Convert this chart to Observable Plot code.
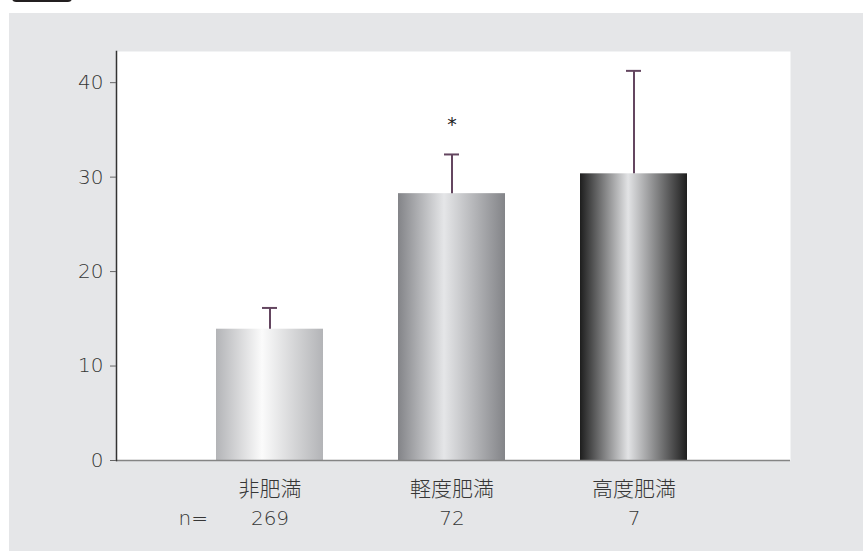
<!DOCTYPE html>
<html><head><meta charset="utf-8">
<script src="https://cdn.jsdelivr.net/npm/d3@7"></script>
<script src="https://cdn.jsdelivr.net/npm/@observablehq/plot@0.6"></script>
<style>
html,body{margin:0;padding:0;background:#fff;width:863px;height:551px;overflow:hidden;font-family:"Noto Sans CJK JP","Noto Sans",sans-serif;}
#tab{position:absolute;left:12px;top:-8px;width:60px;height:10px;background:#231f20;border-radius:4px;}
#panel{position:absolute;left:9px;top:13px;width:854px;height:538px;background:#e5e6e8;}
#panel svg{display:block;}
</style></head>
<body>
<div id="tab"></div>
<svg width="0" height="0" style="position:absolute">
<defs>
<linearGradient id="g0" x1="0" x2="1" y1="0" y2="0">
<stop offset="0" stop-color="#b3b4b7"/><stop offset="0.43" stop-color="#fbfbfb"/><stop offset="1" stop-color="#b3b4b7"/>
</linearGradient>
<linearGradient id="g1" x1="0" x2="1" y1="0" y2="0">
<stop offset="0" stop-color="#838488"/><stop offset="0.43" stop-color="#e5e6e8"/><stop offset="1" stop-color="#838488"/>
</linearGradient>
<linearGradient id="g2" x1="0" x2="1" y1="0" y2="0">
<stop offset="0" stop-color="#1e1e1e"/><stop offset="0.45" stop-color="#e2e3e5"/><stop offset="1" stop-color="#1e1e1e"/>
</linearGradient>
</defs>
</svg>
<div id="panel"></div>
<script>
const categories = ["非肥満", "軽度肥満", "高度肥満"];
const means = [13.9, 28.25, 30.35];
const errTops = [16.15, 32.4, 41.25];
const nValues = ["269", "72", "7"];
const yTicks = [0, 10, 20, 30, 40];
const marks_sig = ["", "*", ""];
const gradients = ["url(#g0)", "url(#g1)", "url(#g2)"];

const data = categories.map((c, i) => ({cat: c, mean: means[i], top: errTops[i], n: nValues[i], sig: marks_sig[i], fill: gradients[i]}));
const cjk = '"Noto Sans CJK JP","Noto Sans",sans-serif';
const num = '"DejaVu Sans","Noto Sans",sans-serif';
const ink = "#363636";

const chart = Plot.plot({
  width: 854,
  height: 538,
  marginLeft: 107,
  marginRight: 73,
  marginTop: 38,
  marginBottom: 91,
  style: {background: "transparent", fontFamily: cjk, fontSize: "19px", color: ink},
  x: {domain: categories, paddingInner: 0.414, paddingOuter: 0.554, align: 0.49, axis: null},
  y: {domain: [0, 43.3], axis: null},
  color: {type: "identity"},
  marks: [
    Plot.frame({fill: "white", stroke: "none"}),
    Plot.barY(data, {x: "cat", y: "mean", fill: "fill"}),
    Plot.ruleX(data, {x: "cat", y1: "mean", y2: "top", stroke: "#644660", strokeWidth: 2}),
    Plot.tickY(data, {x: "cat", y: "top", stroke: "#644660", strokeWidth: 2, inset: 46}),
    Plot.text(data, {x: "cat", y: "top", text: "sig", dy: -30, fontSize: 19, fill: "#222", fontFamily: num, fontWeight: 400}),
    Plot.ruleY([0], {stroke: "#858585", strokeWidth: 1.5}),
    Plot.frame({anchor: "left", stroke: "#333", strokeWidth: 1.5}),
    Plot.axisY(yTicks, {tickSize: 6, tickPadding: 7, stroke: "#666", fill: ink, fontSize: 20, fontFamily: num, fontWeight: 300, label: null}),
    Plot.text(data, {x: "cat", text: "cat", frameAnchor: "bottom", dy: 35, fontSize: 21, fontWeight: 300, fill: ink}),
    Plot.text(data, {x: "cat", text: "n", frameAnchor: "bottom", dy: 64, fontSize: 20, fontFamily: num, fontWeight: 300, fill: ink}),
    Plot.text(["n="], {text: d => d, frameAnchor: "bottom-left", dx: 62, dy: 64, fontSize: 20, fontFamily: num, fontWeight: 300, fill: ink})
  ]
});
document.getElementById("panel").appendChild(chart);
</script>
</body></html>
